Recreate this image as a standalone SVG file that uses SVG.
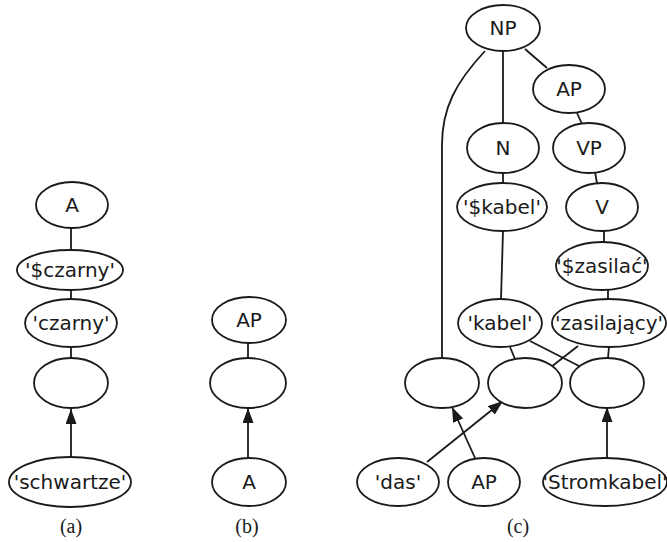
<svg xmlns="http://www.w3.org/2000/svg" width="667" height="542" viewBox="0 0 667 542">
<style>
.n ellipse{fill:#fff;stroke:#1a1a1a;stroke-width:1.8}
.n text{font-family:"DejaVu Sans","Liberation Sans",sans-serif;font-size:20px;fill:#1a1a1a;text-anchor:middle;dominant-baseline:central}
.e{stroke:#1a1a1a;stroke-width:1.8;fill:none}
.cap{font-family:"Liberation Serif",serif;font-size:20px;fill:#1a1a1a;text-anchor:middle}
</style>
<defs>
<marker id="ah" viewBox="0 0 15 11" refX="15" refY="5.5" markerWidth="15" markerHeight="11" markerUnits="userSpaceOnUse" orient="auto">
<path d="M0,0 L15,5.5 L0,11 Z" fill="#1a1a1a"/>
</marker>
</defs>
<g id="connectors">
<line class="e" x1="71" y1="228" x2="71" y2="251"/>
<line class="e" x1="71" y1="289" x2="71" y2="299"/>
<line class="e" x1="71" y1="347" x2="71" y2="358"/>
<line class="e" x1="71" y1="457" x2="71" y2="409" marker-end="url(#ah)"/>
<line class="e" x1="248" y1="343" x2="248" y2="358"/>
<line class="e" x1="248" y1="458" x2="248" y2="408" marker-end="url(#ah)"/>
<line class="e" x1="503" y1="51" x2="503" y2="123"/>
<line class="e" x1="525" y1="49" x2="547" y2="68"/>
<path class="e" d="M485,51 C456,82 442,108 442,145 L442,358"/>
<line class="e" x1="577" y1="113" x2="582" y2="124"/>
<line class="e" x1="503" y1="173" x2="503" y2="183"/>
<line class="e" x1="595" y1="172" x2="597" y2="183"/>
<line class="e" x1="604" y1="231" x2="604" y2="242"/>
<line class="e" x1="503" y1="231" x2="501" y2="299"/>
<line class="e" x1="608" y1="290" x2="608" y2="299"/>
<line class="e" x1="510" y1="347" x2="515" y2="359"/>
<line class="e" x1="530" y1="341" x2="581" y2="367"/>
<line class="e" x1="578" y1="346" x2="551" y2="367"/>
<line class="e" x1="609" y1="347" x2="608" y2="358"/>
<line class="e" x1="475" y1="458" x2="452" y2="407" marker-end="url(#ah)"/>
<line class="e" x1="427" y1="462" x2="503" y2="401" marker-end="url(#ah)"/>
<line class="e" x1="607" y1="458" x2="607" y2="407" marker-end="url(#ah)"/>
</g>
<g id="a_A" class="n"><ellipse cx="72" cy="205" rx="36" ry="23"/><text x="72" y="205">A</text></g>
<g id="a_dczarny" class="n"><ellipse cx="70" cy="270" rx="53" ry="20"/><text x="70" y="270">'$czarny'</text></g>
<g id="a_czarny" class="n"><ellipse cx="71" cy="323" rx="46" ry="24"/><text x="71" y="323">'czarny'</text></g>
<g id="a_blank" class="n"><ellipse cx="71" cy="383" rx="37" ry="25"/></g>
<g id="a_schwartze" class="n"><ellipse cx="70" cy="482" rx="61" ry="25"/><text x="70" y="482">'schwartze'</text></g>
<g id="b_AP" class="n"><ellipse cx="249" cy="320" rx="37" ry="23"/><text x="249" y="320">AP</text></g>
<g id="b_blank" class="n"><ellipse cx="248" cy="383" rx="38" ry="25"/></g>
<g id="b_A" class="n"><ellipse cx="249" cy="482" rx="37" ry="24"/><text x="249" y="482">A</text></g>
<g id="c_NP" class="n"><ellipse cx="503" cy="28" rx="37" ry="23"/><text x="503" y="28">NP</text></g>
<g id="c_AP" class="n"><ellipse cx="569" cy="89" rx="36" ry="24"/><text x="569" y="89">AP</text></g>
<g id="c_N" class="n"><ellipse cx="503" cy="148" rx="36" ry="25"/><text x="503" y="148">N</text></g>
<g id="c_VP" class="n"><ellipse cx="589" cy="148" rx="36" ry="25"/><text x="589" y="148">VP</text></g>
<g id="c_dkabel" class="n"><ellipse cx="502" cy="207" rx="45" ry="24"/><text x="502" y="207">'$kabel'</text></g>
<g id="c_V" class="n"><ellipse cx="602" cy="207" rx="36" ry="24"/><text x="602" y="207">V</text></g>
<g id="c_dzasilac" class="n"><ellipse cx="602" cy="266" rx="46" ry="24"/><text x="602" y="266">'$zasilać'</text></g>
<g id="c_kabel" class="n"><ellipse cx="500" cy="323" rx="42" ry="24"/><text x="500" y="323">'kabel'</text></g>
<g id="c_zasilajacy" class="n"><ellipse cx="609" cy="323" rx="57" ry="24"/><text x="609" y="323">'zasilający'</text></g>
<g id="c_blank1" class="n"><ellipse cx="442" cy="383" rx="37" ry="25"/></g>
<g id="c_blank2" class="n"><ellipse cx="525" cy="383" rx="37" ry="25"/></g>
<g id="c_blank3" class="n"><ellipse cx="607" cy="383" rx="37" ry="25"/></g>
<g id="c_das" class="n"><ellipse cx="398" cy="482" rx="41" ry="24"/><text x="398" y="482">'das'</text></g>
<g id="c_AP2" class="n"><ellipse cx="484" cy="482" rx="36" ry="24"/><text x="484" y="482">AP</text></g>
<g id="c_Stromkabel" class="n"><ellipse cx="605" cy="482" rx="62" ry="24"/><text x="605" y="482">'Stromkabel'</text></g>
<text class="cap" x="71" y="533">(a)</text>
<text class="cap" x="247" y="533">(b)</text>
<text class="cap" x="518" y="533">(c)</text>
</svg>
